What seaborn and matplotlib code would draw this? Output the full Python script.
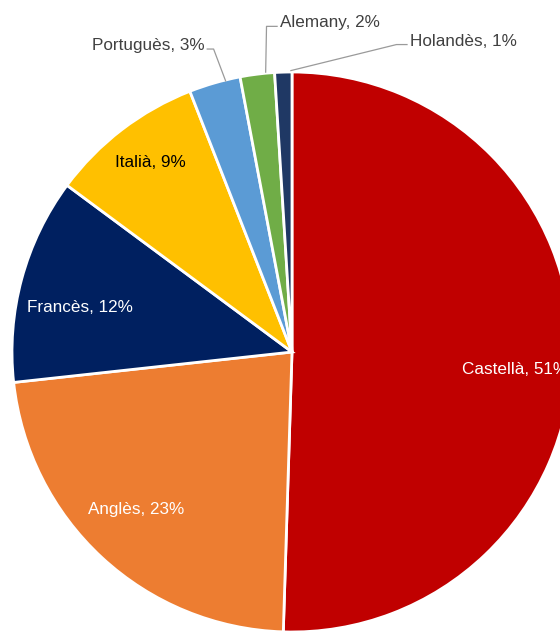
import numpy as np
import matplotlib
matplotlib.use("Agg")
import matplotlib.pyplot as plt
import seaborn as sns

languages = ["Castellà", "Anglès", "Francès", "Italià", "Portuguès", "Alemany", "Holandès"]
percents = [51, 23, 12, 9, 3, 2, 1]
colors = ["#C00000", "#ED7D31", "#002060", "#FFC000", "#5B9BD5", "#70AD47", "#1F3864"]
text_colors = ["white", "white", "white", "black", None, None, None]

sns.set_theme(style="white")
plt.rcParams["font.family"] = ["Liberation Sans", "DejaVu Sans"]

W, H, DPI = 560, 635, 100
fig = plt.figure(figsize=(W / DPI, H / DPI), dpi=DPI)
ax = fig.add_axes([0, 0, 1, 1])

wedges, _ = ax.pie(percents, colors=colors, startangle=90, counterclock=False,
                   radius=1.0, wedgeprops=dict(edgecolor="white", linewidth=2))

# pixel geometry: centre (292, 352), radius 280 px
cx, cy, r = 292, 352, 280
ax.set_xlim(-cx / r, (W - cx) / r)
ax.set_ylim(-(H - cy) / r, cy / r)
ax.set_aspect("auto")
ax.axis("off")

FS = 12.3

def lab(i):
    return f"{languages[i]}, {percents[i]}%"

inner_dist = [0.80, 0.79, 0.773, 0.845]
inner_shift = [-3.7, -2.0, 3.4, -0.8]  # degrees relative to wedge middle
for i in range(4):
    w = wedges[i]
    ang = np.deg2rad((w.theta1 + w.theta2) / 2 + inner_shift[i])
    d = inner_dist[i]
    ax.text(d * np.cos(ang), d * np.sin(ang), lab(i), color=text_colors[i],
            ha="center", va="center", fontsize=FS)

# outside labels with leader lines
outside = {
    4: dict(tx=-0.311, ty=1.094, ha="right", elbow=0.025, dx=0.04),
    5: dict(tx=-0.043, ty=1.175, ha="left", elbow=-0.04, dx=0.03),
    6: dict(tx=0.421, ty=1.11, ha="left", elbow=-0.04, dx=0.025),
}
for i, o in outside.items():
    w = wedges[i]
    ang = np.deg2rad((w.theta1 + w.theta2) / 2)
    px, py = np.cos(ang) + o["dx"], np.sin(ang)
    ax.text(o["tx"], o["ty"], lab(i), ha=o["ha"], va="center", fontsize=FS, color="#404040")
    x0 = o["tx"] + (0.006 if o["ha"] == "right" else -0.008)
    x1 = x0 + o["elbow"]
    ax.plot([x0, x1, px], [o["ty"] - 0.012, o["ty"] - 0.012, py + 0.005],
            color="#9a9a9a", lw=0.9, solid_capstyle="butt")

fig.savefig("out.png", dpi=DPI)
